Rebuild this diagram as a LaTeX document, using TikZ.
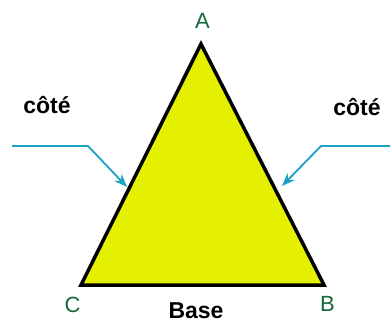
\documentclass[tikz,border=0pt]{standalone}
\usepackage{fontspec}
\setmainfont{Liberation Sans}
\usetikzlibrary{arrows.meta}
\definecolor{triyellow}{RGB}{229,240,0}
\definecolor{ptgreen}{RGB}{20,105,55}
\definecolor{arrblue}{RGB}{27,160,200}
\begin{document}
\begin{tikzpicture}[
    x=1pt, y=-1pt,
    pt/.style={font=\fontsize{22}{22}\selectfont, text=ptgreen, inner sep=0pt},
    lbl/.style={font=\fontsize{23}{23}\selectfont\bfseries, inner sep=0pt},
    arr/.style={-{Stealth[length=13pt, width=10pt]}, arrblue, line width=1.8pt},
]
\useasboundingbox (0,0) rectangle (390,323);
% triangle
\coordinate (A) at (201,44);
\coordinate (B) at (324,285);
\coordinate (C) at (81,285);
\draw[fill=triyellow, line width=3.5pt, line join=miter] (A) -- (B) -- (C) -- cycle;

% vertex names
\node[pt] (nA) at (202.5,21) {A};
\node[pt] (nB) at (327.5,303.5) {B};
\node[pt] (nC) at (72.5,305) {C};
\node[lbl] (base) at (196,311) {Base};

% sides
\node[lbl] (coteL) at (47,105) {côté};
\node[lbl] (coteR) at (357,107) {côté};
\coordinate (startL) at (12,146);
\coordinate (kneeL) at (88,146);
\coordinate (tipL) at (127,187);
\coordinate (startR) at (390,146);
\coordinate (kneeR) at (321,146);
\coordinate (tipR) at (282,186);
\draw[arr] (startL) -- (kneeL) -- (tipL);
\draw[arr] (startR) -- (kneeR) -- (tipR);
\end{tikzpicture}
\end{document}
